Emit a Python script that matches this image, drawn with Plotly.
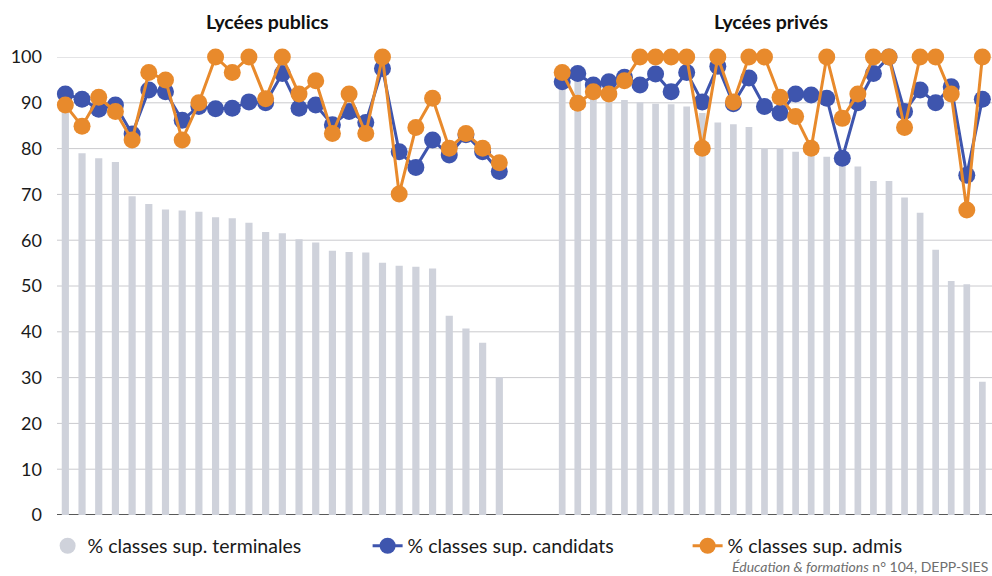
import plotly.graph_objects as go

# Share of terminale students, candidates and admitted students going to
# "classes supérieures" (%), one value per lycée, public and private.
publics_ids = [f"P{i}" for i in range(1, 28)]
publics_terminales = [89.0, 79.0, 77.9, 77.1, 69.6, 67.9, 66.7, 66.5, 66.2, 65.0,
                      64.8, 63.8, 61.8, 61.5, 60.2, 59.5, 57.7, 57.4, 57.3, 55.1,
                      54.4, 54.2, 53.8, 43.5, 40.7, 37.6, 30.1]
publics_candidats = [91.9, 90.8, 88.6, 89.5, 83.2, 92.8, 92.4, 86.2, 89.2, 88.7,
                     88.8, 90.2, 90.0, 96.4, 88.8, 89.5, 85.2, 88.1, 85.7, 97.5,
                     79.3, 75.9, 81.9, 78.6, 83.0, 79.3, 75.0]
publics_admis = [89.5, 84.9, 91.2, 88.1, 81.9, 96.6, 95.0, 81.9, 90.0, 100.0,
                 96.6, 100.0, 90.9, 100.0, 91.9, 94.8, 83.3, 91.9, 83.3, 100.0,
                 70.1, 84.6, 91.0, 80.1, 83.3, 80.1, 76.9]

prives_ids = [f"R{i}" for i in range(1, 29)]
prives_terminales = [96.0, 95.0, 92.5, 91.2, 90.6, 90.1, 89.8, 89.7, 89.2, 87.8,
                     85.7, 85.3, 84.7, 80.0, 80.0, 79.3, 78.6, 78.2, 76.2, 76.1,
                     72.9, 72.9, 69.3, 66.0, 57.9, 51.1, 50.4, 29.1]
prives_candidats = [94.6, 96.4, 93.9, 94.6, 95.6, 93.9, 96.3, 92.4, 96.6, 90.2,
                    98.0, 89.8, 95.4, 89.2, 87.8, 91.9, 91.7, 91.0, 77.9, 90.0,
                    96.4, 100.0, 88.1, 92.8, 90.0, 93.5, 74.2, 90.8]
prives_admis = [96.6, 89.9, 92.4, 91.9, 94.8, 100.0, 100.0, 100.0, 100.0, 80.1,
                100.0, 90.2, 100.0, 100.0, 91.2, 87.0, 80.1, 100.0, 86.6, 91.9,
                100.0, 100.0, 84.6, 100.0, 100.0, 91.9, 66.6, 100.0]

y_ticks = list(range(0, 101, 10))
panel_titles = ["Lycées publics", "Lycées privés"]
series_names = ["% classes sup. terminales", "% classes sup. candidats",
                "% classes sup. admis"]

BAR = "#cfd2db"
BLUE = "#3e55ae"
ORANGE = "#e88a2c"
FONT = "Lato"

fig = go.Figure()

panels = [
    ("x", publics_ids, publics_terminales, publics_candidats, publics_admis),
    ("x2", prives_ids, prives_terminales, prives_candidats, prives_admis),
]
for xa, ids, term, cand, adm in panels:
    fig.add_trace(go.Bar(x=ids, y=term, xaxis=xa, yaxis="y",
                         marker=dict(color=BAR, line=dict(width=0)),
                         showlegend=False, name=series_names[0]))
    fig.add_trace(go.Scatter(x=ids, y=cand, xaxis=xa, yaxis="y", mode="lines+markers",
                             line=dict(color=BLUE, width=3),
                             marker=dict(color=BLUE, size=17),
                             cliponaxis=False, showlegend=False, name=series_names[1]))
    fig.add_trace(go.Scatter(x=ids, y=adm, xaxis=xa, yaxis="y", mode="lines+markers",
                             line=dict(color=ORANGE, width=3),
                             marker=dict(color=ORANGE, size=17),
                             cliponaxis=False, showlegend=False, name=series_names[2]))

# Legend entries
fig.add_trace(go.Scatter(x=[None], y=[None], mode="markers", name=series_names[0],
                         marker=dict(color=BAR, size=22, symbol="circle")))
fig.add_trace(go.Scatter(x=[None], y=[None], mode="lines+markers", name=series_names[1],
                         line=dict(color=BLUE, width=3), marker=dict(color=BLUE, size=17)))
fig.add_trace(go.Scatter(x=[None], y=[None], mode="lines+markers", name=series_names[2],
                         legendwidth=190,
                         line=dict(color=ORANGE, width=3), marker=dict(color=ORANGE, size=17)))

# Horizontal grid running across both panels, darker baseline at 0
for v in y_ticks:
    fig.add_shape(type="line", xref="paper", yref="y", x0=0, x1=1, y0=v, y1=v,
                  layer="below",
                  line=dict(color="#222222" if v == 0 else "#cacace",
                            width=1.5 if v == 0 else 1))

hidden_x = dict(type="category", showticklabels=False, showgrid=False, zeroline=False,
                showline=False, ticks="", fixedrange=True, automargin=False)

fig.update_layout(
    width=992, height=576,
    margin=dict(l=57, r=0, t=57, b=61, autoexpand=False),
    paper_bgcolor="white", plot_bgcolor="white",
    font=dict(family=FONT, color="#1a1a1a", size=17),
    bargap=0.57,
    xaxis=dict(domain=[0, 0.482], range=[-0.5, len(publics_ids) - 0.5], **hidden_x),
    xaxis2=dict(domain=[0.532, 0.998], anchor="y",
                range=[-0.5, len(prives_ids) - 0.5], **hidden_x),
    yaxis=dict(range=[0, 100], tickvals=y_ticks, showgrid=False, zeroline=False,
               showline=False, ticks="", ticklabelstandoff=14, automargin=False,
               tickfont=dict(family=FONT, size=18, color="#1a1a1a")),
    legend=dict(orientation="h", xref="container", yref="container",
                x=0.048, y=0.052, xanchor="left", yanchor="middle",
                entrywidth=275, font=dict(family=FONT, size=19.5, color="#1a1a1a"),
                bgcolor="rgba(0,0,0,0)"),
    annotations=[
        dict(text=f"<b>{panel_titles[0]}</b>", xref="paper", yref="paper",
             x=0.2246, y=1.0786, xanchor="center", yanchor="middle", showarrow=False,
             font=dict(family=FONT, size=19.5, color="#111111")),
        dict(text=f"<b>{panel_titles[1]}</b>", xref="paper", yref="paper",
             x=0.7636, y=1.0786, xanchor="center", yanchor="middle", showarrow=False,
             font=dict(family=FONT, size=19.5, color="#111111")),
        dict(text="<i>Éducation & formations</i> n° 104, DEPP-SIES",
             xref="paper", yref="paper", x=0.998, y=-0.112,
             xanchor="right", yanchor="middle", showarrow=False,
             font=dict(family=FONT, size=14, color="#6e6e6e")),
    ],
)

fig.write_html("out.html")
